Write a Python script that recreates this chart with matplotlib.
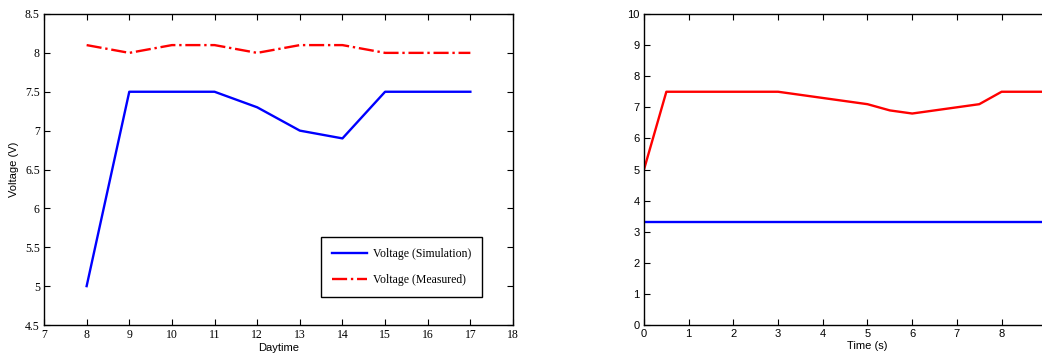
import numpy as np
import matplotlib.pyplot as plt

# left panel: daily voltage
hours = [8, 9, 10, 11, 12, 13, 14, 15, 16, 17]
v_sim = [5.0, 7.5, 7.5, 7.5, 7.3, 7.0, 6.9, 7.5, 7.5, 7.5]
v_meas = [8.1, 8.0, 8.1, 8.1, 8.0, 8.1, 8.1, 8.0, 8.0, 8.0]

# right panel: time response
t = [0, 0.5, 3, 4, 5, 5.5, 6, 7, 7.5, 8, 10]
v_out = [5.0, 7.5, 7.5, 7.3, 7.1, 6.9, 6.8, 7.0, 7.1, 7.5, 7.5]
t_ref = [0, 10]
v_ref = [3.3, 3.3]

W, H = 1042, 357
fig = plt.figure(figsize=(W / 100, H / 100), dpi=100)


def style(ax, family, size):
    ax.tick_params(direction='in', top=True, right=True, length=4,
                   width=0.8, labelsize=size, pad=3)
    for s in ax.spines.values():
        s.set_linewidth(1.0)
    for lab in ax.get_xticklabels() + ax.get_yticklabels():
        lab.set_family(family)


ax1 = fig.add_axes([44 / W, 1 - 325 / H, 469 / W, 311 / H])
ax1.plot(hours, v_sim, color='#0000ff', lw=1.7, label='Voltage (Simulation)')
ax1.plot(hours, v_meas, color='#ff0000', lw=1.7, ls='-.', label='Voltage (Measured)')
ax1.set_xlim(7, 18)
ax1.set_ylim(4.5, 8.5)
ax1.set_xticks(range(7, 19))
ax1.set_yticks(np.arange(4.5, 8.51, 0.5))
ax1.set_yticklabels(['4.5', '5', '5.5', '6', '6.5', '7', '7.5', '8', '8.5'])
style(ax1, 'Liberation Serif', 8.5)
ax1.set_xlabel('Daytime', fontsize=8, family='Liberation Sans', labelpad=1)
ax1.set_ylabel('Voltage (V)', fontsize=8, family='Liberation Sans', labelpad=4)
leg = ax1.legend(loc='center', bbox_to_anchor=(0.762, 0.186),
                 prop={'family': 'Liberation Serif', 'size': 8.5},
                 fancybox=False, framealpha=1, edgecolor='black',
                 handlelength=3.0, handletextpad=0.5, labelspacing=1.2,
                 borderpad=0.9, borderaxespad=0)
leg.get_frame().set_linewidth(1.0)

ax2 = fig.add_axes([644 / W, 1 - 325 / H, 447 / W, 311 / H])
ax2.plot(t, v_out, color='#ff0000', lw=1.7)
ax2.plot(t_ref, v_ref, color='#0000ff', lw=1.7)
ax2.set_xlim(0, 10)
ax2.set_ylim(0, 10)
ax2.set_xticks(range(0, 9))
ax2.set_yticks(range(0, 11))
style(ax2, 'Liberation Sans', 8)
ax2.set_xlabel('Time (s)', fontsize=8, family='Liberation Sans', labelpad=1)

fig.savefig('out.png', dpi=100)
